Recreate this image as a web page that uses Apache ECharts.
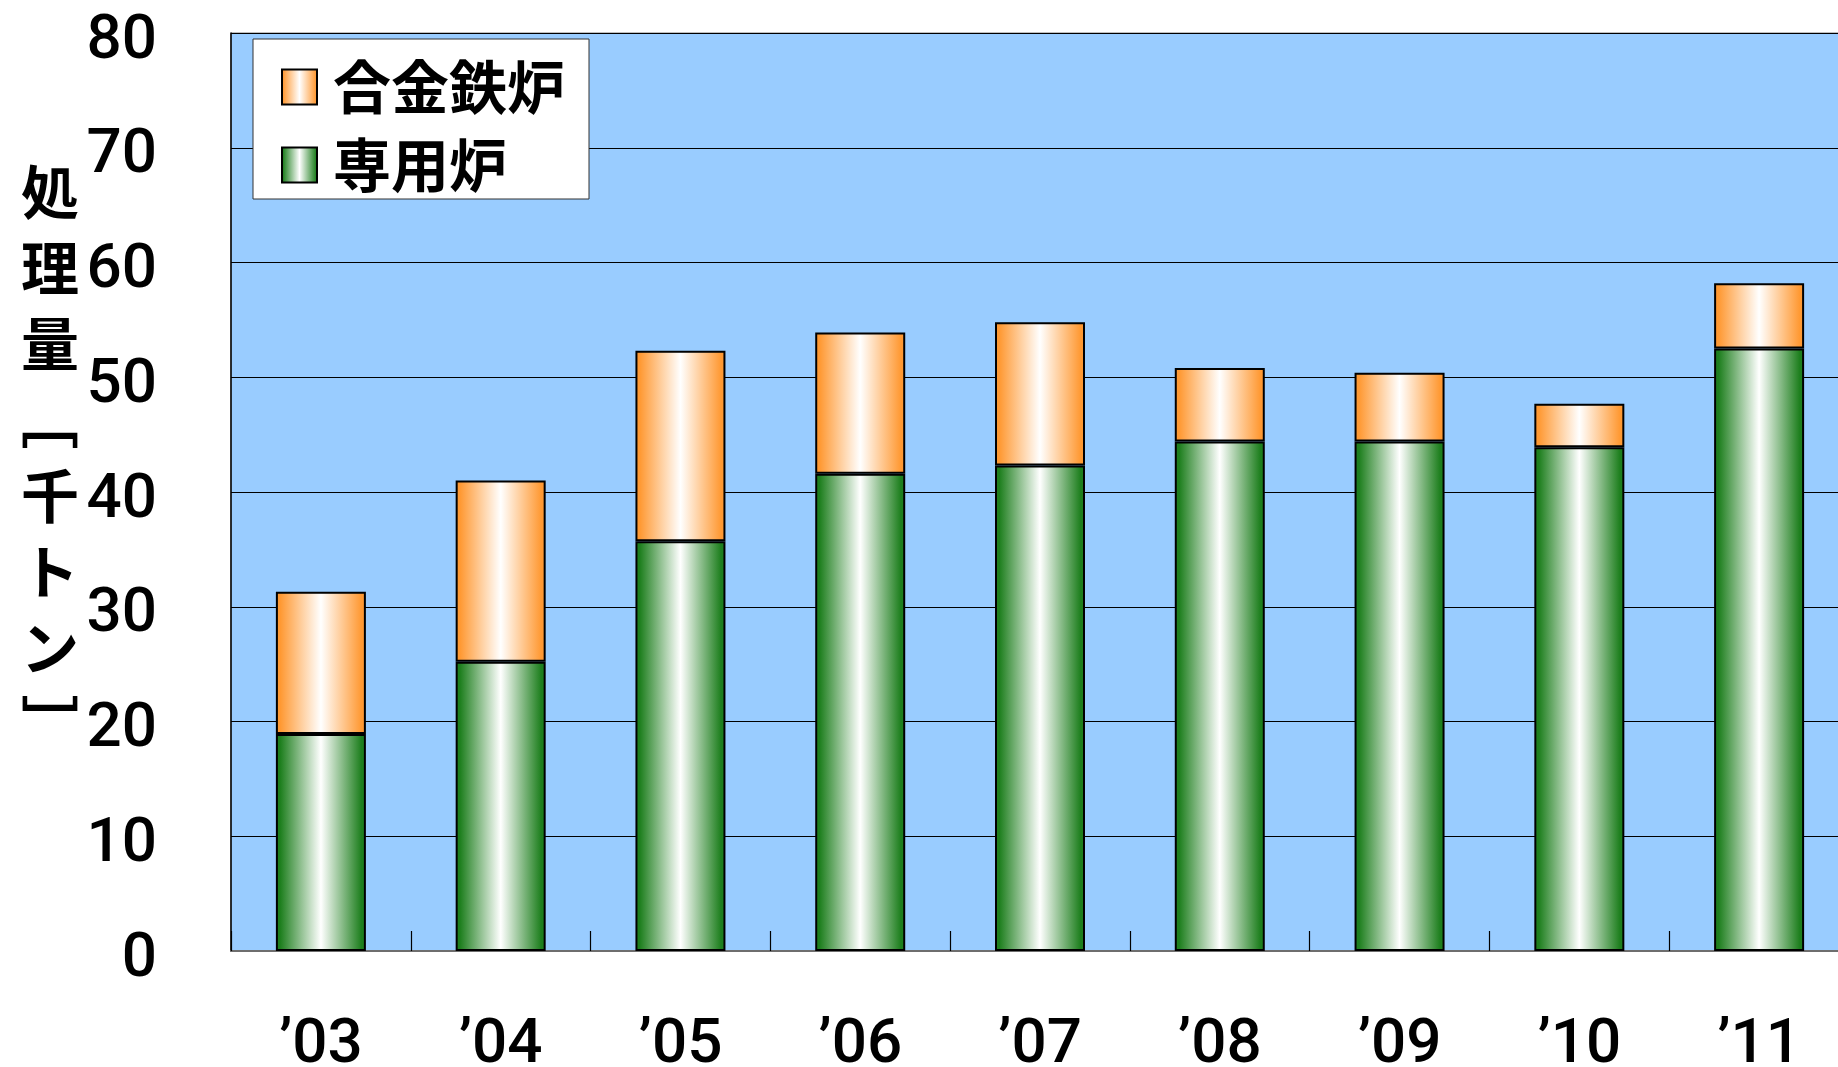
<!DOCTYPE html>
<html><head><meta charset="utf-8">
<script src="https://cdn.jsdelivr.net/npm/echarts@6/dist/echarts.min.js"></script>
<style>html,body{margin:0;padding:0;background:#fff}#c{width:1838px;height:1067px}</style>
</head><body><div id="c"></div>
<script>
const categories = ['’03','’04','’05','’06','’07','’08','’09','’10','’11'];
const dedicated = [18.9, 25.2, 35.7, 41.6, 42.3, 44.4, 44.4, 43.9, 52.5];
const ferroalloy = [12.4, 15.8, 16.6, 12.3, 12.5, 6.4, 6.0, 3.8, 5.7];
const seriesNames = ['専用炉', '合金鉄炉'];
const yTitle = ['処','理','量','﹇','千','ト','ン','﹈'];

const numFont = 'Roboto';
const cjkFont = '"Noto Sans CJK JP"';
function grad(c){
  return {type:'linear',x:0,y:0,x2:1,y2:0,colorStops:[
    {offset:0,color:c},{offset:0.05,color:c},{offset:0.5,color:'#ffffff'},{offset:0.95,color:c},{offset:1,color:c}]};
}
const chart = echarts.init(document.getElementById('c'));
chart.setOption({
  animation:false,
  grid:{left:231,top:33,bottom:116,width:1618,show:true,containLabel:false,outerBoundsMode:'none',
    backgroundColor:'#99CCFF',borderColor:'#7f7f7f',borderWidth:1},
  legend:{
    data:[seriesNames[1], seriesNames[0]], orient:'vertical', left:253, top:39, icon:'rect',
    backgroundColor:'#fff', borderColor:'#333', borderWidth:1,
    padding:[19,24,5,28], itemGap:20, itemWidth:35, itemHeight:35,
    textStyle:{fontFamily:cjkFont, fontSize:58, fontWeight:'bold', color:'#000', padding:[0,0,0,11]}
  },
  xAxis:{type:'category',data:categories,
    axisLine:{lineStyle:{color:'#6e6e6e',width:2}},
    axisTick:{show:true,inside:true,length:20,lineStyle:{color:'#000',width:1.2}},
    axisLabel:{fontFamily:numFont,fontSize:62,fontWeight:500,color:'#000',margin:64}},
  yAxis:{type:'value',min:0,max:80,interval:10,
    axisLine:{show:true,lineStyle:{color:'#000',width:1.5}},
    axisTick:{show:false},
    splitLine:{lineStyle:{color:'#000',width:1}},
    axisLabel:{fontFamily:numFont,fontSize:62,fontWeight:500,color:'#000',margin:74,verticalAlign:'top',lineHeight:18}},
  graphic:[{type:'text',x:50,y:154,style:{text:yTitle.join('\n'),fontFamily:cjkFont,fontSize:58,fontWeight:'bold',lineHeight:76,fill:'#000',textAlign:'center'}}],
  series:[
    {name:seriesNames[0],type:'bar',stack:'a',data:dedicated,barWidth:90,
     itemStyle:{color:grad('#1e7f1e'),borderColor:'#000',borderWidth:2}},
    {name:seriesNames[1],type:'bar',stack:'a',data:ferroalloy,barWidth:90,
     itemStyle:{color:grad('#ff9933'),borderColor:'#000',borderWidth:2}}
  ]
});
</script></body></html>
